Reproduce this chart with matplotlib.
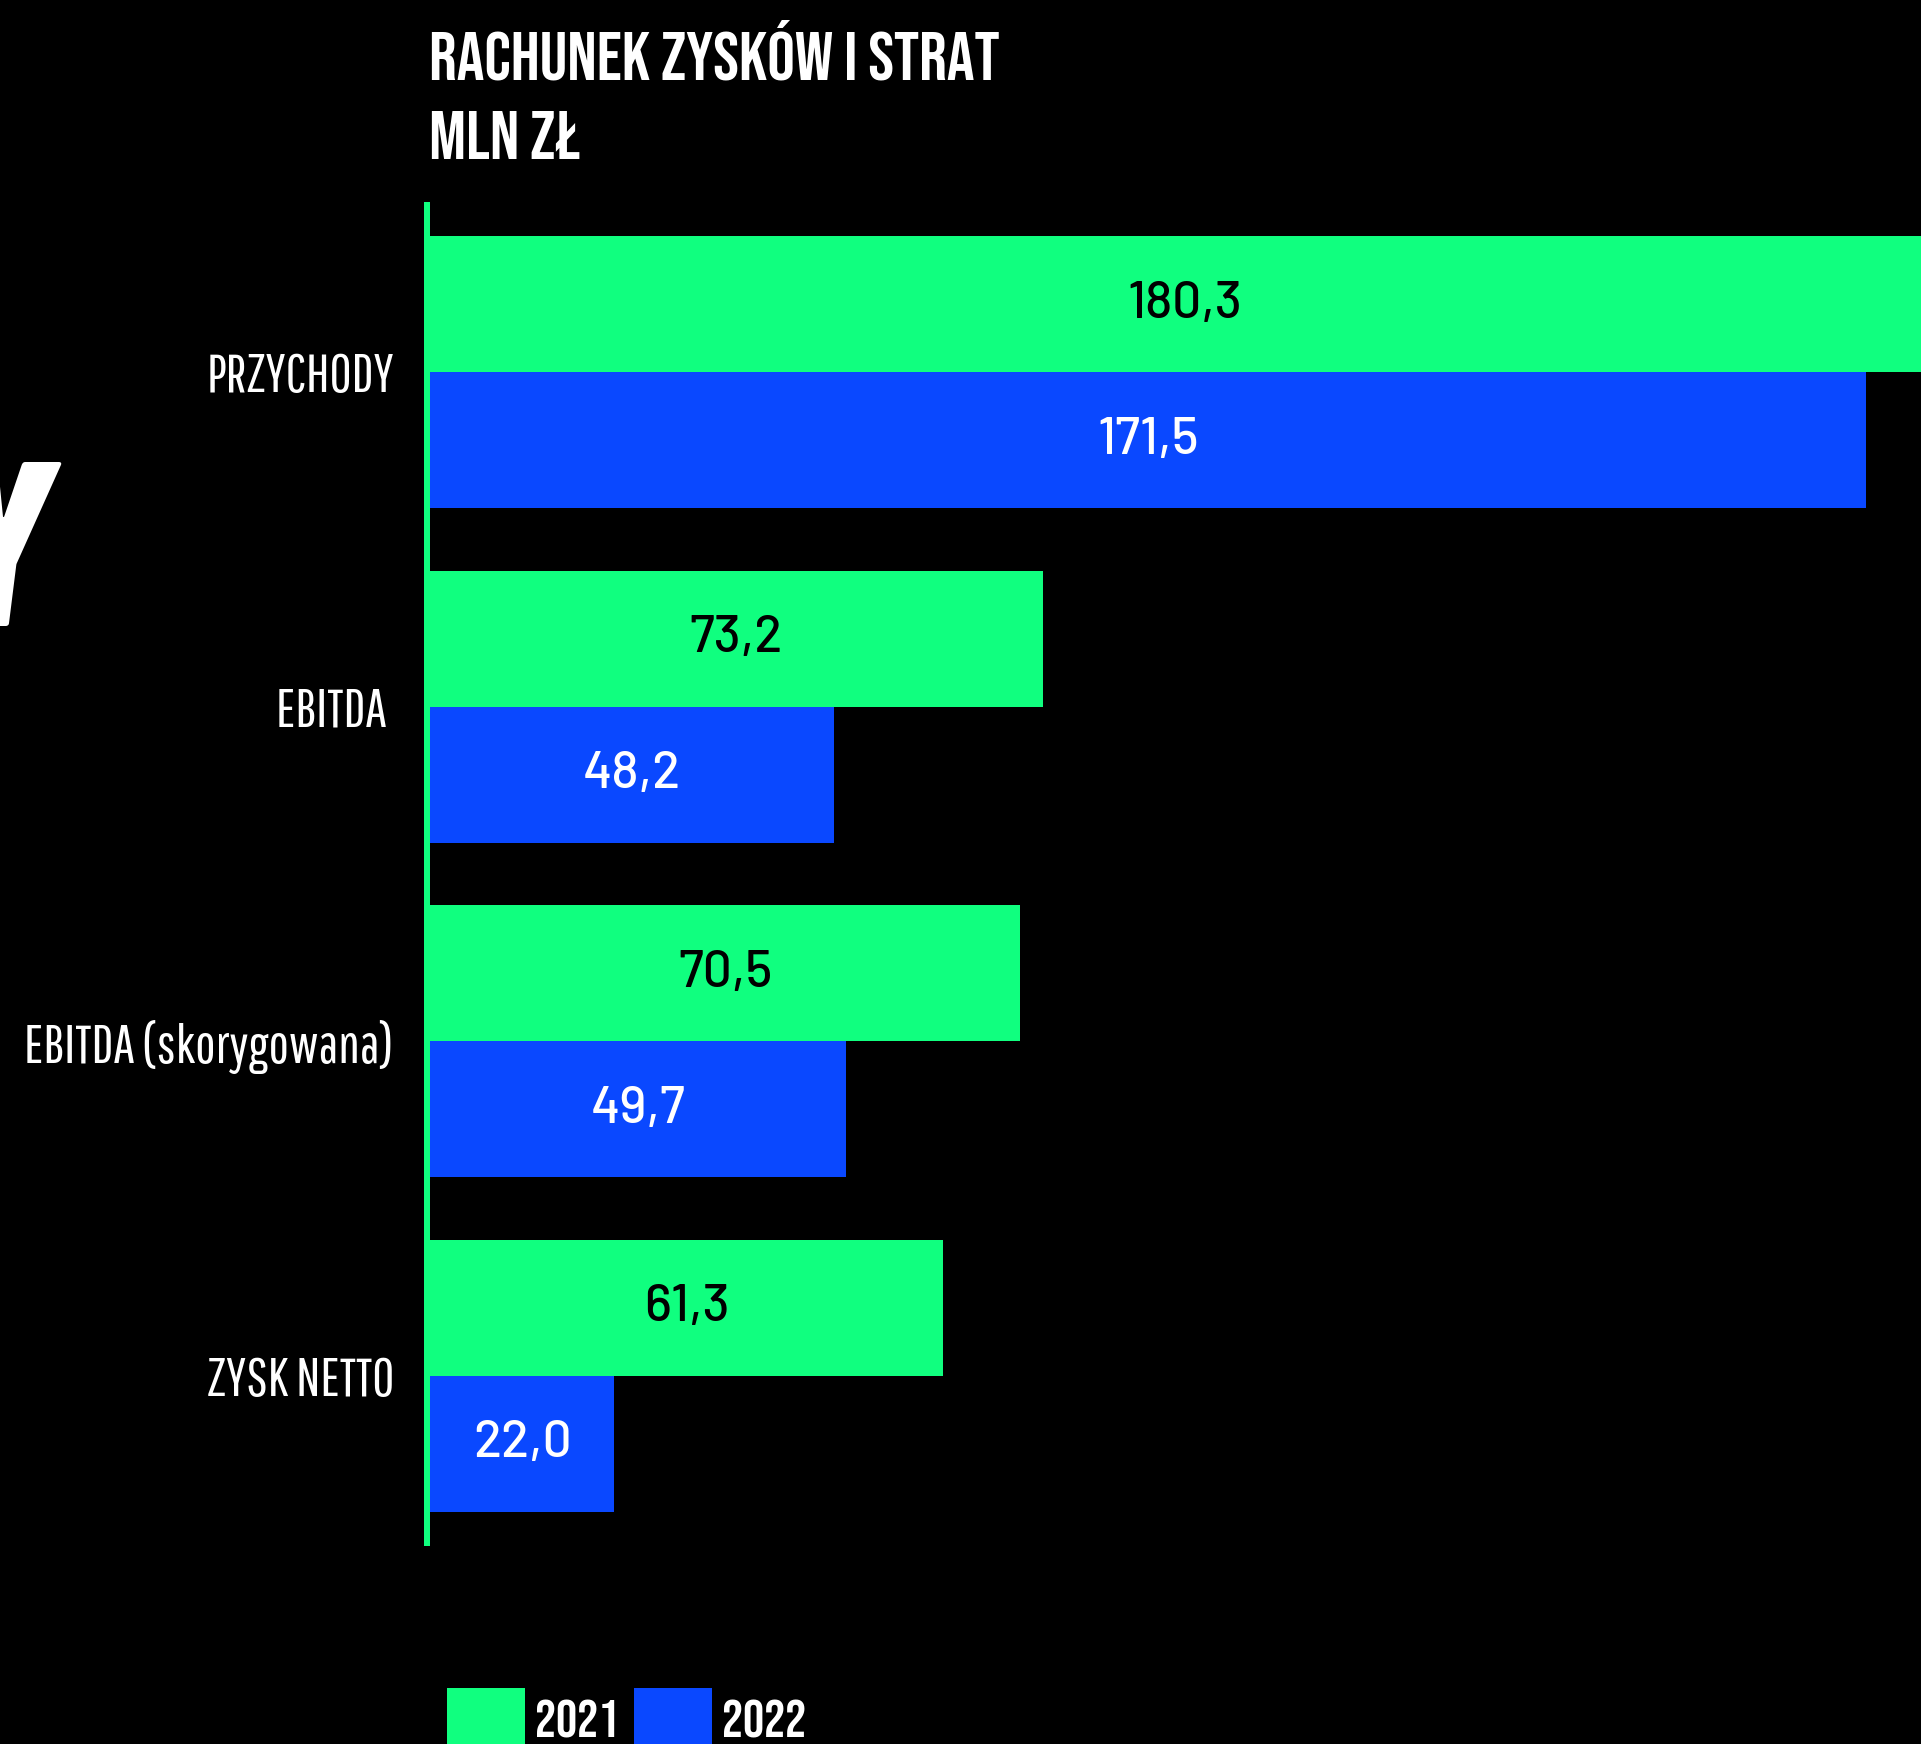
import matplotlib
matplotlib.use("Agg")
import matplotlib.pyplot as plt
from matplotlib.patches import Patch

categories = ["PRZYCHODY", "EBITDA ", "EBITDA (skorygowana)", "ZYSK NETTO"]
values_2021 = [180.3, 73.2, 70.5, 61.3]
values_2022 = [171.5, 48.2, 49.7, 22.0]
series_labels = ["2021", "2022"]
title_lines = ["RACHUNEK ZYSKÓW I STRAT", "MLN ZŁ"]

GREEN = "#10FF7F"
BLUE = "#0A48FF"
BG = "#000000"
F_TITLE = ["Bebas Neue", "Barlow Condensed", "DejaVu Sans"]
F_CAT = ["Pathway Gothic One", "Barlow Condensed", "DejaVu Sans"]
F_VAL = ["Barlow", "Barlow Semi Condensed", "DejaVu Sans"]
F_BIG = ["Barlow Condensed", "DejaVu Sans"]

W, H, DPI = 1921, 1744, 100

fig = plt.figure(figsize=(W / DPI, H / DPI), dpi=DPI, facecolor=BG)

def px_to_fig(x, y_top):
    return x / W, 1 - y_top / H

ax_left, ax_right = 430, W
ax_top, ax_bot = 205, 1543
ax = fig.add_axes([ax_left / W, 1 - ax_bot / H, (ax_right - ax_left) / W, (ax_bot - ax_top) / H])
ax.set_facecolor(BG)

px_per_unit = (1866 - 430) / 171.5
ax.set_xlim(0, (ax_right - ax_left) / px_per_unit)
ax.set_ylim(3.5, -0.5)

bh = 0.4066
ys = list(range(len(categories)))
b1 = ax.barh([y - bh / 2 for y in ys], values_2021, height=bh, color=GREEN, linewidth=0)
b2 = ax.barh([y + bh / 2 for y in ys], values_2022, height=bh, color=BLUE, linewidth=0)

for bars, vals, col in ((b1, values_2021, "black"), (b2, values_2022, "white")):
    for rect, v in zip(bars, vals):
        ax.text(rect.get_width() / 2, rect.get_y() + rect.get_height() / 2,
                f"{v:.1f}".replace(".", ","), ha="center", va="center",
                color=col, fontsize=37, family=F_VAL, fontweight=500)

for s in ["top", "right", "bottom"]:
    ax.spines[s].set_visible(False)
ax.spines["left"].set_color(GREEN)
ax.spines["left"].set_linewidth(6 * 72 / DPI)
ax.spines["left"].set_position(("outward", 3 * 72 / DPI))
ax.set_xticks([])
ax.set_yticks(ys)
ax.set_yticklabels(categories, color="white", fontsize=39, family=F_CAT)
ax.tick_params(axis="y", length=0, pad=33 * 72 / DPI)

x, y = px_to_fig(429, 80)
fig.text(x, y, title_lines[0], color="white", fontsize=49.5, family=F_TITLE, va="baseline")
x, y = px_to_fig(429, 159)
fig.text(x, y, title_lines[1], color="white", fontsize=49.5, family=F_TITLE, va="baseline")

x, y = px_to_fig(49, 626)
fig.text(x, y, "Y", color="white", fontsize=168, fontweight=800, fontstyle="italic", family=F_BIG,
         ha="right", va="baseline")

fs = 38
fpx = fs * DPI / 72
handles = [Patch(facecolor=GREEN, linewidth=0), Patch(facecolor=BLUE, linewidth=0)]
fig.legend(handles, series_labels, loc="center left", bbox_to_anchor=px_to_fig(447, 1720),
           ncol=2, frameon=False, labelcolor="white",
           prop={"size": fs, "family": F_TITLE},
           handlelength=78 / fpx, handleheight=78 / fpx, handletextpad=10 / fpx,
           columnspacing=15 / fpx, borderpad=0, borderaxespad=0)

fig.savefig("out.png", dpi=DPI, facecolor=BG)
